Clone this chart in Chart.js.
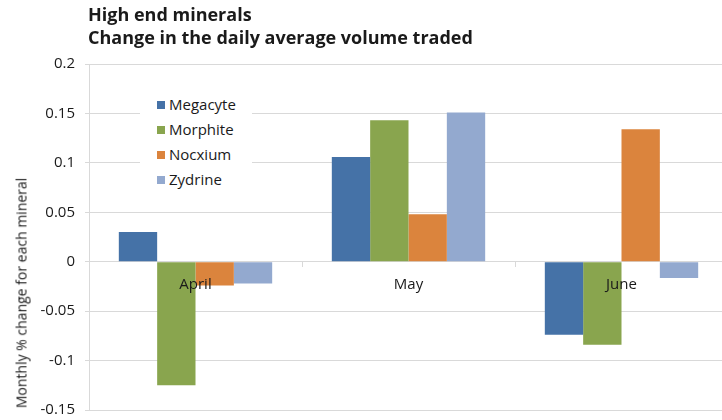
<!DOCTYPE html>
<html>
<head>
<meta charset="utf-8">
<script src="https://cdn.jsdelivr.net/npm/chart.js@4"></script>
<style>
    html, body { margin: 0; padding: 0; background: #fff; }
    #wrap { position: relative; width: 722px; height: 420px; overflow: hidden; font-family: 'Open Sans', sans-serif; color: #1a1a1a; }
    #chart { position: absolute; left: 0; top: 0; }
    .title { position: absolute; left: 88px; top: 3px; font-size: 18px; font-weight: 700; line-height: 23px; }
    .ytitle { position: absolute; left: 21px; top: 293px; font-size: 14px; white-space: nowrap; transform: translate(-50%, -50%) rotate(-90deg); }
    .legend { position: absolute; left: 140px; top: 90px; width: 112px; background: #fff; padding: 2px 0; }
    .legend div { position: relative; height: 25px; line-height: 25px; font-size: 15px; padding-left: 29px; }
    .legend span { position: absolute; left: 17px; top: 9px; width: 8px; height: 8px; }
</style>
</head>
<body>
<div id="wrap">
    <!-- plot runs a few px past the right edge in the original, so the canvas is wider and clipped -->
    <canvas id="chart" width="728" height="420"></canvas>
    <div class="title">High end minerals<br>Change in the daily average volume traded</div>
    <div class="ytitle">Monthly % change for each mineral</div>
    <div class="legend" id="legend"></div>
</div>
<script>
const categories = ['April', 'May', 'June'];
const seriesNames = ['Megacyte', 'Morphite', 'Nocxium', 'Zydrine'];
const megacyte = [0.030, 0.106, -0.074];
const morphite = [-0.125, 0.143, -0.084];
const nocxium = [-0.024, 0.048, 0.134];
const zydrine = [-0.022, 0.151, -0.0165];
// bottom to top
const yTickLabels = ['-0.15', '-0.1', '-0.05', '0', '0.05', '0.1', '0.15', '0.2'];
const colors = ['#4572A7', '#89A54E', '#DB843D', '#93A9CF'];

const seriesValues = [megacyte, morphite, nocxium, zydrine];
const gridColor = '#d9d9d9';

const legendEl = document.getElementById('legend');
seriesNames.forEach((name, i) => {
    const row = document.createElement('div');
    const box = document.createElement('span');
    box.style.background = colors[i];
    row.appendChild(box);
    row.appendChild(document.createTextNode(name));
    legendEl.appendChild(row);
});

new Chart(document.getElementById('chart').getContext('2d'), {
    type: 'bar',
    data: {
        labels: categories,
        datasets: seriesNames.map((name, i) => ({
            label: name,
            data: seriesValues[i],
            backgroundColor: colors[i],
            borderWidth: 0,
            categoryPercentage: 0.72,
            barPercentage: 1
        }))
    },
    options: {
        responsive: false,
        animation: false,
        devicePixelRatio: 1,
        layout: { padding: { left: 0, top: 64, right: 0, bottom: 10 } },
        plugins: {
            legend: { display: false },
            tooltip: { enabled: false }
        },
        scales: {
            x: {
                position: { y: 0 },
                afterFit: (scale) => { scale.paddingLeft = 0; scale.paddingRight = 0; },
                grid: { offset: true, drawOnChartArea: false, tickLength: 5, color: gridColor },
                border: { color: gridColor },
                ticks: { z: 1, color: '#1a1a1a', padding: 9, font: { family: 'Open Sans', size: 15 } }
            },
            y: {
                min: -0.15,
                max: 0.2,
                // fixed axis width, and no extra room for the end labels
                afterFit: (scale) => {
                    scale.width = 89;
                    scale.paddingTop = 0;
                    scale.paddingBottom = 0;
                },
                grid: { color: gridColor, tickLength: 4 },
                border: { color: gridColor },
                ticks: {
                    stepSize: 0.05,
                    padding: 10,
                    color: '#1a1a1a',
                    font: { family: 'Open Sans', size: 15 },
                    callback: (value, index) => yTickLabels[index]
                }
            }
        }
    }
});
</script>
</body>
</html>
